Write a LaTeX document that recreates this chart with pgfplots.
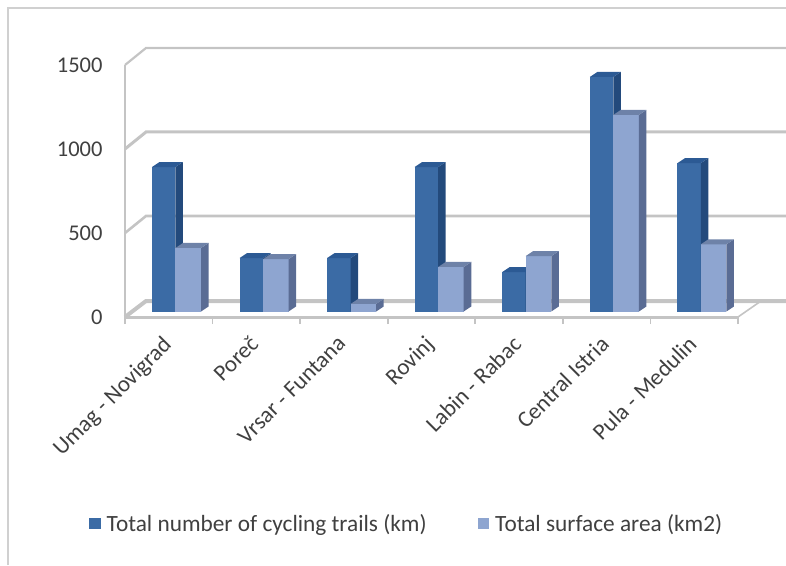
\documentclass[border=0pt]{standalone}
\usepackage{fontspec}
\setmainfont{Carlito}
\usepackage{pgfplots}
\pgfplotsset{compat=1.18}
\definecolor{gridc}{HTML}{C4C4C4}
\definecolor{framec}{HTML}{D0D0D0}
\definecolor{txt}{HTML}{404040}
\definecolor{darkF}{HTML}{3B6BA5}
\definecolor{darkS}{HTML}{234A7C}
\definecolor{darkT}{HTML}{2C5A94}
\definecolor{lightF}{HTML}{8EA5D0}
\definecolor{lightS}{HTML}{5A6C94}
\definecolor{lightT}{HTML}{6E82A8}
% One extruded bar: left edge, right edge, value, face colours
\newcommand{\boxbar}[6]{%
  \pgfmathsetmacro{\xl}{#1}%
  \pgfmathsetmacro{\xr}{#2}%
  \pgfmathsetmacro{\xd}{#2+0.086}%
  \pgfmathsetmacro{\xe}{#1+0.086}%
  \pgfmathsetmacro{\yd}{#3+29.8}%
  \addplot[fill=#4,draw=none,forget plot,yshift=5.5pt] coordinates {(\xl,0) (\xr,0) (\xr,#3) (\xl,#3)} -- cycle;
  \addplot[fill=#5,draw=none,forget plot,yshift=5.5pt] coordinates {(\xr,0) (\xd,29.8) (\xd,\yd) (\xr,#3)} -- cycle;
  \addplot[fill=#6,draw=none,forget plot,yshift=5.5pt] coordinates {(\xl,#3) (\xr,#3) (\xd,\yd) (\xe,\yd)} -- cycle;
}
% One category: position, cycling trails, surface area
\newcommand{\group}[3]{%
  \pgfmathsetmacro{\ga}{#1-0.192}%
  \pgfmathsetmacro{\gb}{#1+0.076}%
  \boxbar{\ga}{\gb}{#2}{darkF}{darkS}{darkT}
  \pgfmathsetmacro{\ga}{#1+0.076}%
  \pgfmathsetmacro{\gb}{#1+0.368}%
  \boxbar{\ga}{\gb}{#3}{lightF}{lightS}{lightT}
}
\begin{document}
\begin{tikzpicture}[x=1pt,y=1pt]
\path[use as bounding box] (0,0) rectangle (786,565);
\draw[framec,line width=2pt] (8,0) -- (8,557) -- (786,557);
\begin{axis}[
  at={(125pt,248pt)}, anchor=south west,
  scale only axis, width=613pt, height=252pt,
  xmin=-0.5, xmax=6.5, ymin=0, ymax=1500,
  clip=false,
  axis line style={draw=none},
  ytick={0,500,1000,1500},
  xtick={0,1,2,3,4,5,6},
  xticklabels={Umag - Novigrad,Poreč,Vrsar - Funtana,Rovinj,Labin - Rabac,Central Istria,Pula - Medulin},
  minor xtick={-0.5,0.5,1.5,2.5,3.5,4.5,5.5,6.5},
  major tick length=0pt,
  minor tick length=7pt,
  tick align=outside,
  tick pos=left,
  minor tick style={gridc,line width=1.6pt},
  yticklabel style={font=\fontsize{22.5}{22.5}\selectfont,text=txt,xshift=-19pt},
  /pgf/number format/assume math mode=true,
  /pgf/number format/1000 sep={},
  xticklabel style={font=\fontsize{23}{23}\selectfont,text=txt,rotate=45,anchor=north east,xshift=-14.3pt,yshift=-3.5pt},
  legend columns=2,
  legend image code/.code={\fill[#1] (0pt,-5.5pt) rectangle (11.5pt,6pt); \path (15.5pt,0pt);},
  legend style={draw=none,fill=none,inner sep=0pt,at={(-0.0587,-0.821)},anchor=west,
    font=\fontsize{23.3}{23.3}\selectfont,text=txt,
    /tikz/every even column/.append style={column sep=49pt}},
  legend cell align=left,
]
% Walls and floor of the plot box
\draw[gridc,line width=2.6pt] (axis cs:-0.5,0) -- (axis cs:-0.5,1500);
\draw[gridc,line width=2.2pt] (axis cs:-0.5,1500) -- ++(21pt,17pt) -- ++(615pt,0);
\draw[gridc,line width=3pt] (axis cs:-0.5,1000) -- ++(21pt,17pt) -- ++(615pt,0);
\draw[gridc,line width=2.6pt] (axis cs:-0.5,500) -- ++(21pt,17pt) -- ++(615pt,0);
\draw[gridc,line width=4pt] (axis cs:-0.5,0) -- ++(21pt,16pt) -- ++(615pt,0);
\draw[gridc,line width=1.6pt] (axis cs:6.5,0) -- ++(23pt,16pt);
\draw[gridc,line width=3pt] (axis cs:-0.5,0) -- (axis cs:6.5,0);
\addlegendimage{fill=darkF,draw=none}
\addlegendentry{Total number of cycling trails (km)}
\addlegendimage{fill=lightF,draw=none}
\addlegendentry{Total surface area (km2)}
\group{0}{860}{378}
\group{1}{318}{312}
\group{2}{318}{45}
\group{3}{860}{265}
\group{4}{235}{330}
\group{5}{1396}{1170}
\group{6}{883}{400}
\end{axis}
\end{tikzpicture}
\end{document}
